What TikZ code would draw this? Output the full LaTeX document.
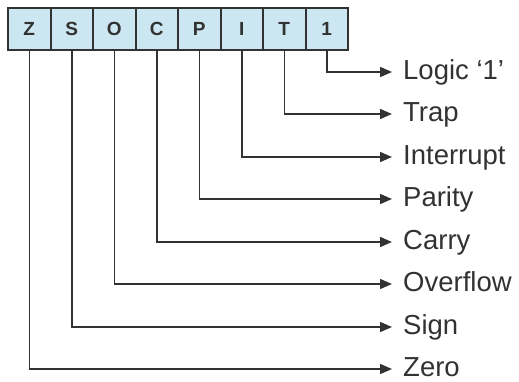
\documentclass[tikz,border=0pt]{standalone}
\usepackage{fontspec}
\setmainfont{Liberation Sans}
\usetikzlibrary{arrows.meta}
\definecolor{boxfill}{RGB}{205,231,242}
\definecolor{linecol}{RGB}{50,50,50}
\tikzset{
  x=1pt,y=1pt,
  flagbox/.style={draw=linecol, line width=2pt, fill=boxfill, minimum width=42.5pt, minimum height=42pt, inner sep=0pt, font=\fontsize{19}{21}\selectfont\bfseries, text=linecol},
  flaglabel/.style={anchor=west, inner xsep=11pt, inner ysep=0pt, text height=19.5pt, text depth=0pt, font=\fontsize{27.5}{30}\selectfont, text=linecol},
  conn/.style={draw=linecol, line width=1.5pt, -{Triangle[length=12pt,width=10pt]}}
}
\begin{document}
\begin{tikzpicture}
\useasboundingbox (0,0) rectangle (519,-382);
\foreach \i/\t in {1/Z,2/S,3/O,4/C,5/P,6/I,7/T,8/1}{
  \node[flagbox] (b\i) at ({8+21.25+42.5*(\i-1)},-29) {\t};
}
\coordinate (e8) at (392,-72);
\coordinate (e7) at (392,-114);
\coordinate (e6) at (392,-157);
\coordinate (e5) at (392,-199);
\coordinate (e4) at (392,-242);
\coordinate (e3) at (392,-284);
\coordinate (e2) at (392,-327);
\coordinate (e1) at (392,-369);
\node[flaglabel] (l8) at ([yshift=2pt]e8) {Logic ‘1’};
\node[flaglabel] (l7) at ([yshift=2pt]e7) {Trap};
\node[flaglabel] (l6) at ([yshift=2pt]e6) {Interrupt};
\node[flaglabel] (l5) at ([yshift=2pt]e5) {Parity};
\node[flaglabel] (l4) at ([yshift=2pt]e4) {Carry};
\node[flaglabel] (l3) at ([yshift=2pt]e3) {Overflow};
\node[flaglabel] (l2) at ([yshift=2pt]e2) {Sign};
\node[flaglabel] (l1) at ([yshift=2pt]e1) {Zero};
\foreach \i in {1,...,8}{
  \draw[conn] (b\i.south) |- (e\i);
}
\end{tikzpicture}
\end{document}
